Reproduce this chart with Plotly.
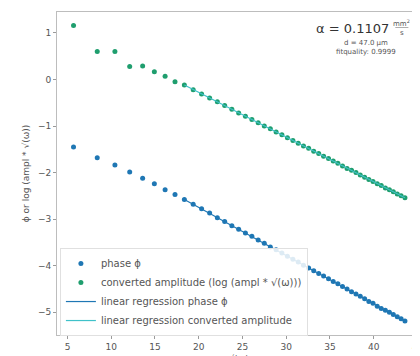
import plotly.graph_objects as go

# sqrt(omega)-like x values for each measurement
x_vals = [5.69, 8.40, 10.42, 12.11, 13.59, 14.93, 16.16, 17.29, 18.36, 19.37,
          20.33, 21.25, 22.13, 22.97, 23.79, 24.57, 25.34, 26.08, 26.80, 27.50,
          28.19, 28.85, 29.51, 30.14, 30.77, 31.38, 31.98, 32.57, 33.15, 33.72,
          34.28, 34.84, 35.38, 35.91, 36.44, 36.96, 37.47, 37.98, 38.47, 38.97,
          39.45, 39.93, 40.41, 40.87, 41.34, 41.80, 42.25, 42.70, 43.14, 43.58]

phase_vals = [-1.45, -1.68, -1.84, -1.99, -2.12, -2.24, -2.37, -2.47, -2.58, -2.68,
              -2.78, -2.87, -2.97, -3.05, -3.14, -3.22, -3.30, -3.37, -3.45, -3.52,
              -3.60, -3.66, -3.73, -3.80, -3.86, -3.92, -3.99, -4.05, -4.11, -4.17,
              -4.22, -4.28, -4.34, -4.39, -4.45, -4.50, -4.56, -4.61, -4.66, -4.71,
              -4.77, -4.81, -4.87, -4.92, -4.96, -5.00, -5.05, -5.10, -5.14, -5.19]

amp_vals = [1.16, 0.60, 0.60, 0.28, 0.29, 0.165, 0.07, -0.05, -0.12, -0.22,
            -0.31, -0.40, -0.48, -0.56, -0.64, -0.72, -0.79, -0.86, -0.93, -1.00,
            -1.06, -1.13, -1.19, -1.25, -1.31, -1.37, -1.43, -1.48, -1.54, -1.59,
            -1.65, -1.70, -1.75, -1.80, -1.86, -1.91, -1.95, -2.00, -2.05, -2.10,
            -2.15, -2.19, -2.24, -2.28, -2.33, -2.37, -2.41, -2.46, -2.50, -2.54]

fit_x = [18.36, 43.58]
phase_fit = [-2.58, -5.19]
amp_fit = [-0.12, -2.54]

x_ticks = [5, 10, 15, 20, 25, 30, 35, 40, 45]
y_ticks = [1, 0, -1, -2, -3, -4, -5]

BLUE = "#1f77b4"
GREEN = "#1f9e6e"
CYAN = "#3fc1c9"

fig = go.Figure()
fig.add_trace(go.Scatter(x=x_vals, y=phase_vals, mode="markers", name="phase ϕ",
                         marker=dict(color=BLUE, size=5)))
fig.add_trace(go.Scatter(x=x_vals, y=amp_vals, mode="markers",
                         name="converted amplitude (log (ampl * √(ω)))",
                         marker=dict(color=GREEN, size=5)))
fig.add_trace(go.Scatter(x=fit_x, y=phase_fit, mode="lines", name="linear regression phase ϕ",
                         line=dict(color=BLUE, width=1.2)))
fig.add_trace(go.Scatter(x=fit_x, y=amp_fit, mode="lines",
                         name="linear regression converted amplitude",
                         line=dict(color=CYAN, width=1.2)))

axis_common = dict(showline=True, mirror=True, linecolor="#bdbdbd", linewidth=1,
                   ticks="outside", ticklen=3, tickcolor="#9a9a9a", showgrid=False,
                   zeroline=False, automargin=False,
                   tickfont=dict(size=9, color="#555", family="DejaVu Sans"))

fig.update_layout(
    width=420, height=356,
    margin=dict(l=49, r=8, t=4, b=29),
    plot_bgcolor="white", paper_bgcolor="white",
    xaxis=dict(range=[3.8, 45.3], tickvals=x_ticks, title=dict(text="√(ω)", standoff=6,
               font=dict(size=9, color="#555")), **axis_common),
    yaxis=dict(range=[-5.49, 1.45], tickvals=y_ticks, tickformat="d",
               title=dict(text="ϕ or log (ampl * √(ω))", standoff=6,
                          font=dict(size=9, color="#555", family="DejaVu Sans")),
               **axis_common),
    legend=dict(x=0.008, y=0.133, xanchor="left", yanchor="middle",
                bgcolor="rgba(255,255,255,0.85)", bordercolor="#e0e0e0", borderwidth=1,
                font=dict(size=10, color="#555", family="DejaVu Sans"),
                itemwidth=30, tracegroupgap=0),
    showlegend=True,
    font=dict(family="DejaVu Sans"),
)

fig.add_annotation(xref="paper", yref="paper", x=0.813, y=0.950, text="α = 0.1107",
                   xanchor="center", yanchor="middle",
                   showarrow=False, font=dict(size=13, color="#333"))
fig.add_annotation(xref="paper", yref="paper", x=0.950, y=0.967, text="mm<sup>2</sup>",
                   xanchor="center", yanchor="middle",
                   showarrow=False, font=dict(size=7, color="#555"))
fig.add_annotation(xref="paper", yref="paper", x=0.950, y=0.936, text="s",
                   xanchor="center", yanchor="middle",
                   showarrow=False, font=dict(size=7, color="#555"))
fig.add_shape(type="line", xref="paper", yref="paper", x0=0.932, x1=0.968, y0=0.952, y1=0.952,
              line=dict(color="#777", width=0.6))
fig.add_annotation(xref="paper", yref="paper", x=0.851, y=0.904, text="d = 47.0 μm",
                   xanchor="center", yanchor="middle",
                   showarrow=False, font=dict(size=7, color="#555"))
fig.add_annotation(xref="paper", yref="paper", x=0.851, y=0.876, text="fitquality: 0.9999",
                   xanchor="center", yanchor="middle",
                   showarrow=False, font=dict(size=7, color="#555"))

fig.write_html("out.html")
